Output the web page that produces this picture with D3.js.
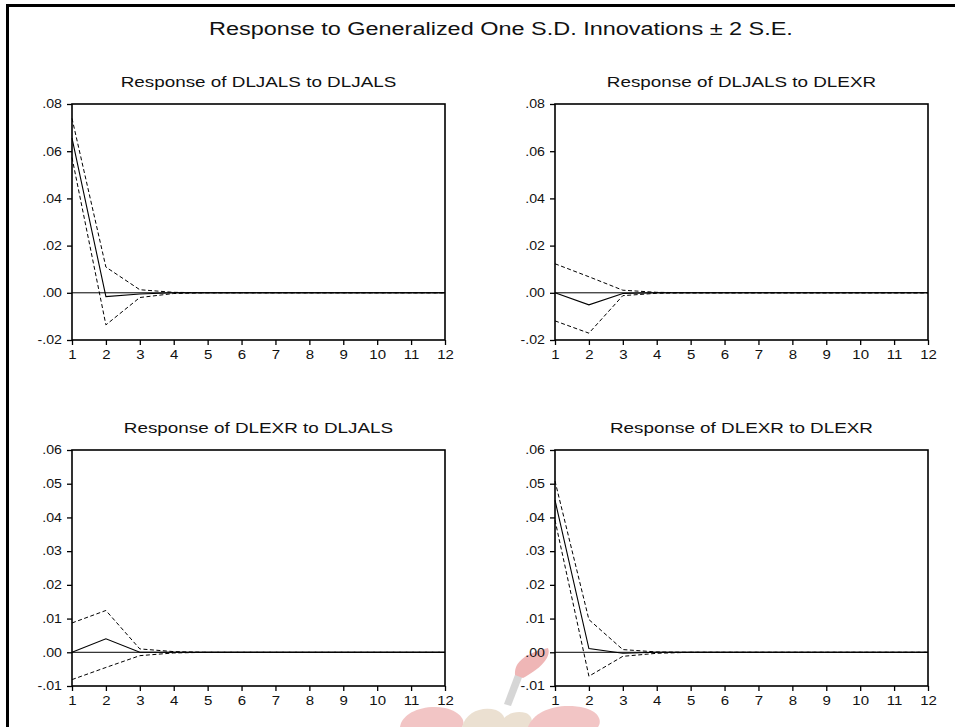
<!DOCTYPE html>
<html>
<head>
<meta charset="utf-8">
<script src="https://cdn.jsdelivr.net/npm/d3@7"></script>
<style>
  body { margin: 0; background: #fff; }
  svg { display: block; }
  text { font-family: "Liberation Sans", Arial, sans-serif; fill: #111; }
</style>
</head>
<body>
<div id="chart"></div>
<script>
// Generalized impulse responses, periods 1..12
const periods = [1, 2, 3, 4, 5, 6, 7, 8, 9, 10, 11, 12];

const respJalsJals  = [0.0655, -0.0016, -0.0005, 0.0, 0, 0, 0, 0, 0, 0, 0, 0];
const upperJalsJals = [0.0739, 0.0109, 0.0013, 0.0002, 0, 0, 0, 0, 0, 0, 0, 0];
const lowerJalsJals = [0.0573, -0.0136, -0.0020, -0.0003, 0, 0, 0, 0, 0, 0, 0, 0];

const respJalsExr  = [0.0, -0.0051, -0.0003, 0.0, 0, 0, 0, 0, 0, 0, 0, 0];
const upperJalsExr = [0.0123, 0.0068, 0.0011, 0.0002, 0, 0, 0, 0, 0, 0, 0, 0];
const lowerJalsExr = [-0.0119, -0.0171, -0.0012, -0.0002, 0, 0, 0, 0, 0, 0, 0, 0];

const respExrJals  = [0.0, 0.0040, 0.0, 0.0, 0, 0, 0, 0, 0, 0, 0, 0];
const upperExrJals = [0.0087, 0.0124, 0.0010, 0.0002, 0, 0, 0, 0, 0, 0, 0, 0];
const lowerExrJals = [-0.0081, -0.0045, -0.0010, -0.0002, 0, 0, 0, 0, 0, 0, 0, 0];

const respExrExr  = [0.0451, 0.0011, -0.0003, 0.0, 0, 0, 0, 0, 0, 0, 0, 0];
const upperExrExr = [0.0508, 0.0097, 0.0008, 0.0001, 0, 0, 0, 0, 0, 0, 0, 0];
const lowerExrExr = [0.0392, -0.0071, -0.0012, -0.0003, 0, 0, 0, 0, 0, 0, 0, 0];

const topTicks = [-0.02, 0.0, 0.02, 0.04, 0.06, 0.08];
const bottomTicks = [-0.01, 0.0, 0.01, 0.02, 0.03, 0.04, 0.05, 0.06];

const mainTitle = "Response to Generalized One S.D. Innovations \u00b1 2 S.E.";
const panelTitles = [
  "Response of DLJALS to DLJALS",
  "Response of DLJALS to DLEXR",
  "Response of DLEXR to DLJALS",
  "Response of DLEXR to DLEXR"
];

const width = 955;
const height = 727;

// the scanned figure is stretched sideways, so text is widened to match
const stretch = (sel, k) => sel.each(function () {
  const len = this.getComputedTextLength();
  d3.select(this)
    .attr("textLength", len * k)
    .attr("lengthAdjust", "spacingAndGlyphs");
});

const svg = d3.select("#chart")
  .append("svg")
  .attr("width", width)
  .attr("height", height);

// faint university crest showing through at the bottom
const crest = svg.append("g").attr("opacity", 0.4);
crest.append("path")
  .attr("d", "M400,727 C402,712 425,704 445,708 C462,712 466,722 462,727 Z")
  .attr("fill", "#e07070");
crest.append("path")
  .attr("d", "M462,727 C466,712 482,706 496,710 C506,714 506,722 503,727 Z")
  .attr("fill", "#cfb48e");
crest.append("path")
  .attr("d", "M498,727 C503,714 515,710 526,713 C534,717 532,723 530,727 Z")
  .attr("fill", "#cfb48e");
crest.append("path")
  .attr("d", "M528,727 C534,710 560,702 585,708 C600,712 602,722 598,727 Z")
  .attr("fill", "#e07070");
crest.append("path")
  .attr("d", "M504,704 L516,672 L523,675 L511,706 Z")
  .attr("fill", "#9a9a9a");
crest.append("path")
  .attr("d", "M515,675 C514,664 522,654 548,648 C552,658 538,670 523,678 Z")
  .attr("fill", "#d84a4a");

// outer frame of the figure (runs off the right and bottom edges)
svg.append("rect")
  .attr("x", 7.5)
  .attr("y", 5.5)
  .attr("width", 980)
  .attr("height", 760)
  .attr("fill", "none")
  .attr("stroke", "#000")
  .attr("stroke-width", 3);

svg.append("text")
  .attr("x", 501)
  .attr("y", 35)
  .attr("text-anchor", "middle")
  .style("font-size", "17.5px")
  .text(mainTitle)
  .call(stretch, 1.34);

const panels = [
  { title: panelTitles[0], resp: respJalsJals, upper: upperJalsJals, lower: lowerJalsJals, ticks: topTicks, x0: 72, x1: 445, y0: 104, y1: 340 },
  { title: panelTitles[1], resp: respJalsExr, upper: upperJalsExr, lower: lowerJalsExr, ticks: topTicks, x0: 555, x1: 928, y0: 104, y1: 340 },
  { title: panelTitles[2], resp: respExrJals, upper: upperExrJals, lower: lowerExrJals, ticks: bottomTicks, x0: 72, x1: 445, y0: 450, y1: 686 },
  { title: panelTitles[3], resp: respExrExr, upper: upperExrExr, lower: lowerExrExr, ticks: bottomTicks, x0: 555, x1: 928, y0: 450, y1: 686 }
];

// EViews style tick labels: ".02", "-.01"
const fmt = v => {
  const s = d3.format(".2f")(Math.abs(v)).replace(/^0/, "");
  return v < -1e-9 ? "-" + s : s;
};

panels.forEach(p => {
  const x = d3.scaleLinear().domain([1, 12]).range([p.x0, p.x1]);
  const y = d3.scaleLinear().domain(d3.extent(p.ticks)).range([p.y1, p.y0]);

  const g = svg.append("g");

  g.append("text")
    .attr("x", (p.x0 + p.x1) / 2)
    .attr("y", p.y0 - 17)
    .attr("text-anchor", "middle")
    .style("font-size", "14.5px")
    .text(p.title)
    .call(stretch, 1.3);

  // zero line
  g.append("line")
    .attr("x1", p.x0).attr("x2", p.x1)
    .attr("y1", y(0)).attr("y2", y(0))
    .attr("stroke", "#000")
    .attr("stroke-width", 1);

  const line = d3.line()
    .x((d, i) => x(periods[i]))
    .y(d => y(d));

  [p.upper, p.lower].forEach(arr => {
    g.append("path")
      .datum(arr)
      .attr("d", line)
      .attr("fill", "none")
      .attr("stroke", "#000")
      .attr("stroke-width", 1)
      .attr("stroke-dasharray", "4,2.5");
  });

  g.append("path")
    .datum(p.resp)
    .attr("d", line)
    .attr("fill", "none")
    .attr("stroke", "#000")
    .attr("stroke-width", 1.1);

  // plot box
  g.append("rect")
    .attr("x", p.x0).attr("y", p.y0)
    .attr("width", p.x1 - p.x0).attr("height", p.y1 - p.y0)
    .attr("fill", "none")
    .attr("stroke", "#000")
    .attr("stroke-width", 1.6);

  const yAxis = d3.axisLeft(y)
    .tickValues(p.ticks)
    .tickFormat(fmt)
    .tickSize(5)
    .tickPadding(5);

  g.append("g")
    .attr("transform", `translate(${p.x0},0)`)
    .call(yAxis)
    .call(a => a.select(".domain").remove())
    .call(a => a.selectAll("text")
      .style("font-size", "12px")
      .style("font-family", "'Liberation Sans', Arial, sans-serif")
      .attr("fill", "#111")
      .call(stretch, 1.18));

  const xAxis = d3.axisBottom(x)
    .tickValues(periods)
    .tickFormat(d3.format("d"))
    .tickSize(5)
    .tickPadding(5);

  g.append("g")
    .attr("transform", `translate(0,${p.y1})`)
    .call(xAxis)
    .call(a => a.select(".domain").remove())
    .call(a => a.selectAll("text")
      .style("font-size", "12.5px")
      .style("font-family", "'Liberation Sans', Arial, sans-serif")
      .attr("fill", "#111")
      .call(stretch, 1.2));

  g.selectAll(".tick line").attr("stroke", "#000").attr("stroke-width", 1.3);
});
</script>
</body>
</html>
